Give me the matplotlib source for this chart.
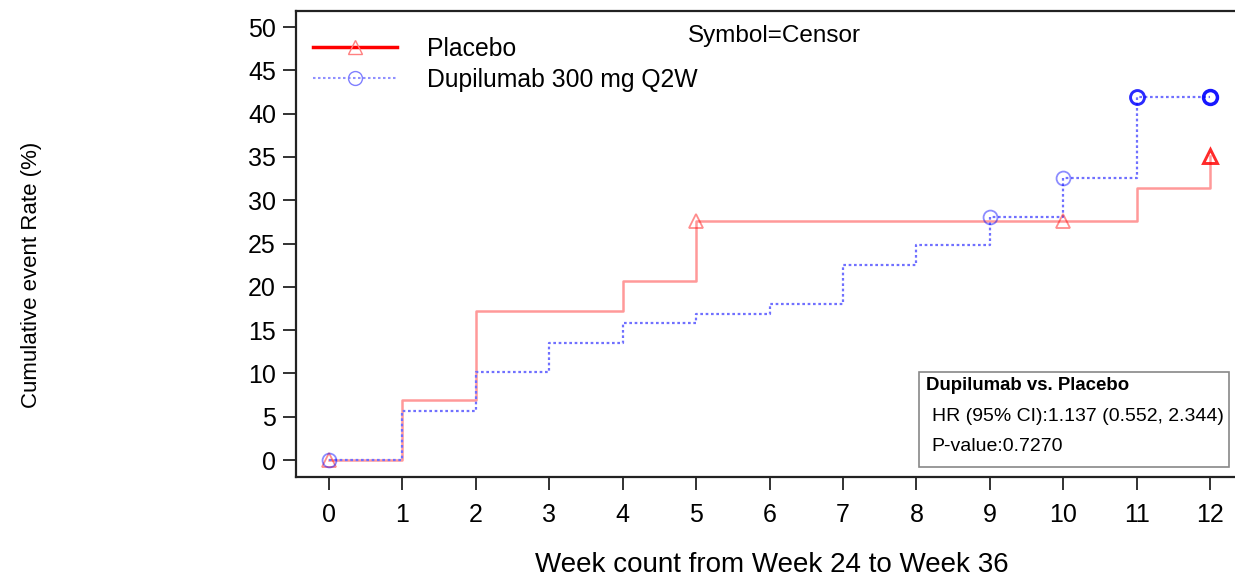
import matplotlib
matplotlib.use('Agg')
import matplotlib.pyplot as plt
from matplotlib.lines import Line2D

plt.rcParams['font.family'] = ['Liberation Sans', 'DejaVu Sans']

# step curves (week, cumulative event rate %)
placebo_t = [0, 1, 2, 4, 5, 11, 12]
placebo_v = [0, 6.9, 17.2, 20.7, 27.6, 31.4, 35.1]
dupi_t = [0, 1, 2, 3, 4, 5, 6, 7, 8, 9, 10, 11, 12]
dupi_v = [0, 5.7, 10.2, 13.5, 15.8, 16.9, 18.0, 22.5, 24.8, 28.1, 32.6, 41.9, 41.9]

# censored observations (week, rate, number censored)
placebo_cens_t = [0, 5, 10, 12]
placebo_cens_v = [0, 27.6, 27.6, 35.1]
placebo_cens_n = [1, 1, 1, 3]
dupi_cens_t = [0, 9, 10, 11, 12]
dupi_cens_v = [0, 28.1, 32.6, 41.9, 41.9]
dupi_cens_n = [1, 1, 1, 3, 4]

weeks = list(range(0, 13))
yticks = list(range(0, 55, 5))

fig = plt.figure(figsize=(12.35, 5.8), dpi=100)
ax = fig.add_axes([0.2397, 0.1776, 0.7603, 0.8034])

ax.step(placebo_t, placebo_v, where='post', color='#ff8080', linewidth=1.8, alpha=0.8, zorder=3)
ax.step(dupi_t, dupi_v, where='post', color='#7070ff', linewidth=1.6, linestyle=(0, (1.2, 1.2)), zorder=3)

for t, v, n in zip(placebo_cens_t, placebo_cens_v, placebo_cens_n):
    a = 1 - (1 - 0.45) ** n
    ax.plot(t, v, marker='^', markersize=10, markerfacecolor='none',
            markeredgecolor='red', markeredgewidth=1.3 + 0.4 * (n - 1), alpha=a, zorder=4)
for t, v, n in zip(dupi_cens_t, dupi_cens_v, dupi_cens_n):
    a = 1 - (1 - 0.45) ** n
    ax.plot(t, v, marker='o', markersize=10, markerfacecolor='none',
            markeredgecolor='blue', markeredgewidth=1.3 + 0.4 * (n - 1), alpha=a, zorder=4)

ax.set_xlim(-0.45, 12.34)
ax.set_ylim(-1.96, 51.85)
ax.set_xticks(weeks)
ax.set_yticks(yticks)
ax.tick_params(axis='both', labelsize=18, length=9.5, width=1.3, color='#222222')
ax.tick_params(axis='x', pad=9)
ax.tick_params(axis='y', pad=5)
for s in ['left', 'bottom', 'top']:
    ax.spines[s].set_linewidth(1.6)
    ax.spines[s].set_color('#222222')
ax.spines['right'].set_visible(False)

ax.set_xlabel('Week count from Week 24 to Week 36', fontsize=20)
ax.set_ylabel('Cumulative event Rate (%)', fontsize=16)
ax.xaxis.set_label_coords(0.507, -0.161)
ax.yaxis.set_label_coords(-0.271, 0.433)

handles = [
    Line2D([], [], color='red', linewidth=2.5, marker='^', markersize=10,
           markerfacecolor='none', markeredgecolor='#ff8080'),
    Line2D([], [], color='#9090ff', linewidth=1.5, linestyle=(0, (1.2, 1.2)), marker='o',
           markersize=10, markerfacecolor='none', markeredgecolor='#8080ff'),
]
ax.legend(handles, ['Placebo', 'Dupilumab 300 mg Q2W'], loc='upper left',
          bbox_to_anchor=(0.0, 0.982), frameon=False, fontsize=17.8, handlelength=3.4,
          handletextpad=1.2, labelspacing=0.3, borderaxespad=0.3)

ax.text(0.417, 0.947, 'Symbol=Censor', transform=ax.transAxes, fontsize=17.5,
        ha='left', va='center')

box_x0 = 0.663
box_y0 = 0.022
ax.add_patch(plt.Rectangle((box_x0, box_y0), 0.331, 0.204, transform=ax.transAxes,
                           facecolor='white', edgecolor='#888888', linewidth=1.2, zorder=5))
ax.text(box_x0 + 0.008, box_y0 + 0.175, 'Dupilumab vs. Placebo', transform=ax.transAxes,
        fontsize=13.4, fontweight='bold', va='center', zorder=6)
ax.text(box_x0 + 0.014, box_y0 + 0.107, 'HR (95% CI):1.137 (0.552, 2.344)', transform=ax.transAxes,
        fontsize=14, va='center', zorder=6)
ax.text(box_x0 + 0.014, box_y0 + 0.043, 'P-value:0.7270', transform=ax.transAxes,
        fontsize=14, va='center', zorder=6)

fig.savefig('out.png', dpi=100)
